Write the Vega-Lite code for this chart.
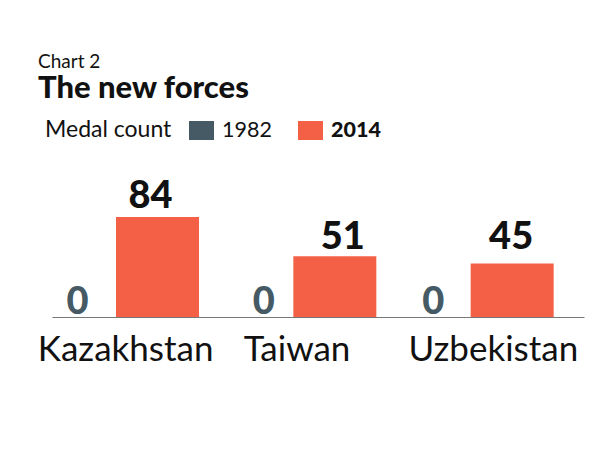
{
  "$schema": "https://vega.github.io/schema/vega-lite/v6.json",
  "description": "The new forces: medal count 1982 and 2014",
  "width": 532,
  "height": 157,
  "autosize": "none",
  "padding": {"left": 52, "top": 160, "right": 16, "bottom": 133},
  "background": "white",
  "view": {"stroke": null},
  "title": {
    "text": "Chart 2",
    "subtitle": "The new forces",
    "font": "Lato",
    "fontSize": 19,
    "fontWeight": 400,
    "color": "#111111",
    "subtitleFont": "Lato",
    "subtitleFontSize": 31,
    "subtitleFontWeight": 900,
    "subtitleColor": "#111111",
    "subtitlePadding": 2,
    "anchor": "start",
    "frame": "group",
    "offset": 14,
    "dx": -14
  },
  "data": {
    "values": [
      {"country": "Kazakhstan", "year": "1982", "medals": 0},
      {"country": "Kazakhstan", "year": "2014", "medals": 84},
      {"country": "Taiwan", "year": "1982", "medals": 0},
      {"country": "Taiwan", "year": "2014", "medals": 51},
      {"country": "Uzbekistan", "year": "1982", "medals": 0},
      {"country": "Uzbekistan", "year": "2014", "medals": 45}
    ]
  },
  "encoding": {
    "x": {
      "field": "country",
      "type": "nominal",
      "scale": {"paddingInner": 0, "paddingOuter": 0},
      "axis": {
        "title": null,
        "labelAngle": 0,
        "labelFont": "Lato",
        "labelFontSize": 35,
        "labelColor": "#111111",
        "labelLimit": 0,
        "labelPadding": 15,
        "labelOverlap": false,
        "labelOffset": {"expr": "datum.value == 'Kazakhstan' ? -15 : datum.value == 'Taiwan' ? -21 : -2"},
        "ticks": false,
        "domainColor": "#777777"
      }
    },
    "xOffset": {
      "field": "year",
      "type": "nominal",
      "scale": {"domain": ["1982", "2014"], "range": [-19, 147]}
    },
    "y": {
      "field": "medals",
      "type": "quantitative",
      "axis": null,
      "scale": {"domain": [0, 132]}
    }
  },
  "layer": [
    {
      "mark": {"type": "bar"},
      "encoding": {
        "color": {
          "field": "year",
          "type": "nominal",
          "scale": {"domain": ["1982", "2014"], "range": ["#455a64", "#f46045"]},
          "legend": {
            "orient": "none",
            "legendX": -7,
            "legendY": -42,
            "direction": "horizontal",
            "title": "Medal count",
            "titleOrient": "left",
            "titleFont": "Lato",
            "titleFontSize": 23,
            "titleFontWeight": 400,
            "titleColor": "#111111",
            "titlePadding": 17,
            "symbolType": "M-1,-0.76H1V0.76H-1Z",
            "symbolSize": 625,
            "symbolStrokeWidth": 0,
            "labelFont": "Lato",
            "labelFontSize": 21.5,
            "labelOffset": 8,
            "labelColor": "#111111",
            "columnPadding": 26,
            "encode": {
              "labels": {
                "update": {
                  "fontWeight": {"signal": "datum.value == '2014' ? 900 : 400"}
                }
              }
            }
          }
        }
      }
    },
    {
      "mark": {
        "type": "text",
        "baseline": "bottom",
        "font": "Lato",
        "fontSize": 38,
        "fontWeight": 900,
        "dx": {"expr": "datum.medals > 0 ? (datum.country == 'Kazakhstan' ? -7 : datum.country == 'Taiwan' ? 8 : -1) : datum.country == 'Taiwan' ? 12 : datum.country == 'Kazakhstan' ? 3 : 4"},
        "dy": {"expr": "datum.medals > 0 ? (datum.country == 'Kazakhstan' ? -1 : datum.country == 'Taiwan' ? 1 : -6) : 5"}
      },
      "encoding": {
        "text": {"field": "medals", "type": "quantitative"},
        "color": {
          "field": "year",
          "type": "nominal",
          "scale": {"domain": ["1982", "2014"], "range": ["#455a64", "#111111"]},
          "legend": null
        }
      }
    }
  ],
  "resolve": {"scale": {"color": "independent"}}
}
